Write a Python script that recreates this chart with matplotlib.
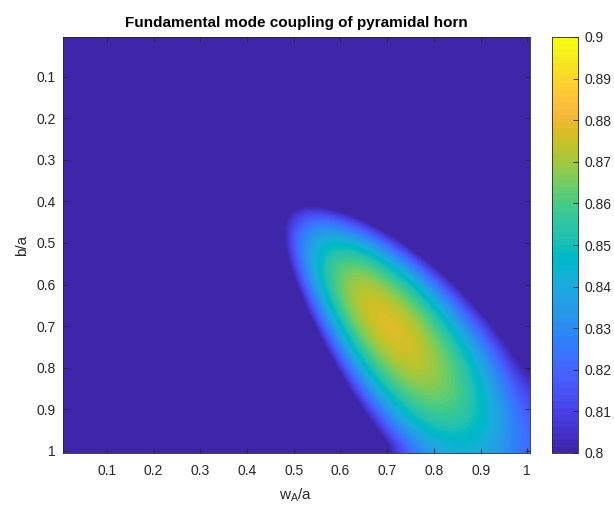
import numpy as np
import matplotlib
matplotlib.use("Agg")
import matplotlib.pyplot as plt
from matplotlib.colors import ListedColormap

# ---------------- data ----------------
w_over_a = [0.40, 0.45, 0.50, 0.55, 0.60, 0.65, 0.70, 0.75, 0.80, 0.85, 0.90, 0.95, 1.00]
b_over_a = [0.35, 0.40, 0.45, 0.50, 0.55, 0.60, 0.65, 0.70, 0.75, 0.80, 0.85, 0.90, 0.95, 1.00]

# rows: b/a, columns: w_A/a  (values below 0.8 are shown saturated dark blue)
coupling = [
    [0.724, 0.752, 0.758, 0.750, 0.730, 0.703, 0.672, 0.638, 0.603, 0.569, 0.536, 0.504, 0.474],
    [0.732, 0.775, 0.796, 0.796, 0.783, 0.761, 0.731, 0.699, 0.665, 0.629, 0.595, 0.561, 0.530],
    [0.723, 0.782, 0.815, 0.828, 0.823, 0.807, 0.782, 0.752, 0.717, 0.682, 0.648, 0.613, 0.580],
    [0.703, 0.774, 0.821, 0.844, 0.849, 0.840, 0.820, 0.794, 0.762, 0.729, 0.694, 0.657, 0.625],
    [0.674, 0.756, 0.814, 0.849, 0.863, 0.863, 0.849, 0.827, 0.798, 0.768, 0.734, 0.699, 0.666],
    [0.642, 0.731, 0.798, 0.843, 0.867, 0.874, 0.867, 0.852, 0.827, 0.799, 0.767, 0.735, 0.702],
    [0.608, 0.701, 0.775, 0.829, 0.862, 0.878, 0.877, 0.867, 0.848, 0.823, 0.794, 0.763, 0.732],
    [0.574, 0.669, 0.749, 0.809, 0.849, 0.873, 0.880, 0.876, 0.862, 0.841, 0.816, 0.787, 0.758],
    [0.541, 0.637, 0.719, 0.785, 0.832, 0.862, 0.876, 0.878, 0.869, 0.853, 0.832, 0.806, 0.778],
    [0.511, 0.605, 0.689, 0.758, 0.810, 0.846, 0.866, 0.875, 0.871, 0.860, 0.842, 0.820, 0.795],
    [0.484, 0.574, 0.658, 0.730, 0.786, 0.827, 0.853, 0.866, 0.868, 0.862, 0.848, 0.828, 0.807],
    [0.458, 0.546, 0.628, 0.701, 0.760, 0.805, 0.835, 0.854, 0.861, 0.859, 0.849, 0.834, 0.814],
    [0.435, 0.520, 0.599, 0.673, 0.733, 0.781, 0.816, 0.839, 0.850, 0.852, 0.847, 0.835, 0.819],
    [0.412, 0.495, 0.573, 0.644, 0.706, 0.756, 0.794, 0.821, 0.836, 0.842, 0.841, 0.833, 0.820],
]

x_ticks = [0.1, 0.2, 0.3, 0.4, 0.5, 0.6, 0.7, 0.8, 0.9, 1.0]
x_tick_labels = ["0.1", "0.2", "0.3", "0.4", "0.5", "0.6", "0.7", "0.8", "0.9", "1"]
y_ticks = [0.1, 0.2, 0.3, 0.4, 0.5, 0.6, 0.7, 0.8, 0.9, 1.0]
y_tick_labels = ["0.1", "0.2", "0.3", "0.4", "0.5", "0.6", "0.7", "0.8", "0.9", "1"]
cbar_ticks = [0.80, 0.81, 0.82, 0.83, 0.84, 0.85, 0.86, 0.87, 0.88, 0.89, 0.90]
cbar_tick_labels = ["0.8", "0.81", "0.82", "0.83", "0.84", "0.85", "0.86",
                    "0.87", "0.88", "0.89", "0.9"]
c_limits = (0.8, 0.9)

title_text = "Fundamental mode coupling of pyramidal horn"
x_label = r"w$_\mathregular{A}$/a"
y_label = "b/a"

# ---------------- parula colormap ----------------
parula_rgb = [
    [0.2422, 0.1504, 0.6603], [0.2504, 0.1650, 0.7076], [0.2578, 0.1818, 0.7511],
    [0.2647, 0.1978, 0.7952], [0.2706, 0.2147, 0.8364], [0.2751, 0.2342, 0.8710],
    [0.2783, 0.2559, 0.8991], [0.2803, 0.2782, 0.9221], [0.2813, 0.3006, 0.9414],
    [0.2810, 0.3228, 0.9579], [0.2795, 0.3447, 0.9717], [0.2760, 0.3667, 0.9829],
    [0.2699, 0.3892, 0.9906], [0.2602, 0.4123, 0.9952], [0.2440, 0.4358, 0.9988],
    [0.2206, 0.4603, 0.9973], [0.1963, 0.4847, 0.9892], [0.1834, 0.5074, 0.9798],
    [0.1786, 0.5289, 0.9682], [0.1764, 0.5499, 0.9520], [0.1687, 0.5703, 0.9359],
    [0.1540, 0.5902, 0.9218], [0.1460, 0.6091, 0.9079], [0.1380, 0.6276, 0.8973],
    [0.1248, 0.6459, 0.8883], [0.1113, 0.6635, 0.8763], [0.0952, 0.6798, 0.8598],
    [0.0689, 0.6948, 0.8394], [0.0297, 0.7082, 0.8163], [0.0036, 0.7203, 0.7917],
    [0.0067, 0.7312, 0.7660], [0.0433, 0.7411, 0.7394], [0.0964, 0.7500, 0.7120],
    [0.1408, 0.7584, 0.6842], [0.1717, 0.7670, 0.6554], [0.1938, 0.7758, 0.6251],
    [0.2161, 0.7843, 0.5923], [0.2470, 0.7918, 0.5567], [0.2906, 0.7973, 0.5188],
    [0.3406, 0.8008, 0.4789], [0.3909, 0.8029, 0.4354], [0.4456, 0.8024, 0.3909],
    [0.5044, 0.7993, 0.3480], [0.5616, 0.7942, 0.3045], [0.6174, 0.7876, 0.2612],
    [0.6720, 0.7793, 0.2227], [0.7242, 0.7698, 0.1910], [0.7738, 0.7598, 0.1646],
    [0.8203, 0.7498, 0.1535], [0.8634, 0.7406, 0.1596], [0.9035, 0.7330, 0.1774],
    [0.9393, 0.7288, 0.2100], [0.9728, 0.7298, 0.2394], [0.9956, 0.7434, 0.2371],
    [0.9970, 0.7659, 0.2199], [0.9952, 0.7893, 0.2028], [0.9892, 0.8136, 0.1885],
    [0.9794, 0.8386, 0.1729], [0.9697, 0.8639, 0.1561], [0.9626, 0.8901, 0.1382],
    [0.9589, 0.9170, 0.1207], [0.9598, 0.9434, 0.1031], [0.9661, 0.9702, 0.0877],
    [0.9763, 0.9831, 0.0538],
]
parula = ListedColormap(parula_rgb, name="parula")
parula.set_under(parula_rgb[0])
parula.set_over(parula_rgb[-1])

# ---------------- style ----------------
text_col = (0.15, 0.15, 0.15)
plt.rcParams["font.family"] = ["Liberation Sans", "DejaVu Sans"]
plt.rcParams["mathtext.fontset"] = "custom"
plt.rcParams["mathtext.rm"] = "Liberation Sans"
plt.rcParams["axes.linewidth"] = 0.6
plt.rcParams["text.color"] = text_col
plt.rcParams["axes.labelcolor"] = text_col
plt.rcParams["xtick.color"] = text_col
plt.rcParams["ytick.color"] = text_col

W, H = 614, 507
fig = plt.figure(figsize=(W / 100, H / 100), dpi=100)

ax_l, ax_r, ax_t, ax_b = 62.6, 529.6, 37.0, 453.0
ax = fig.add_axes([ax_l / W, 1 - ax_b / H, (ax_r - ax_l) / W, (ax_b - ax_t) / H])
ax.set_facecolor(parula_rgb[0])

Z = np.array(coupling)
xs = np.array(w_over_a)
ys = np.array(b_over_a)
dx = xs[1] - xs[0]
dy = ys[1] - ys[0]
im = ax.imshow(Z, cmap=parula, vmin=c_limits[0], vmax=c_limits[1],
               extent=[xs[0] - dx / 2, xs[-1] + dx / 2, ys[-1] + dy / 2, ys[0] - dy / 2],
               origin="upper", interpolation="bicubic", interpolation_stage="data",
               aspect="auto")

ax.set_xlim(0.005, 1.005)
ax.set_ylim(1.005, 0.005)
ax.set_xticks(x_ticks)
ax.set_xticklabels(x_tick_labels)
ax.set_yticks(y_ticks)
ax.set_yticklabels(y_tick_labels)
ax.tick_params(axis="both", which="both", direction="in", length=3.5, width=0.6,
               top=True, right=True, labelsize=10, colors=text_col)
ax.tick_params(axis="x", pad=8)
ax.tick_params(axis="y", pad=5)
for s in ax.spines.values():
    s.set_color(text_col)
    s.set_linewidth(0.6)

ax.set_title(title_text, fontsize=11, fontweight="bold", color="black", pad=7)
ax.set_xlabel(x_label, fontsize=11, labelpad=6)
ax.set_ylabel(y_label, fontsize=11, labelpad=5)

cb_l, cb_r = 552.0, 578.0
cax = fig.add_axes([cb_l / W, 1 - ax_b / H, (cb_r - cb_l) / W, (ax_b - ax_t) / H])
cb = fig.colorbar(im, cax=cax)
cb.set_ticks(cbar_ticks)
cb.set_ticklabels(cbar_tick_labels)
cb.ax.tick_params(direction="in", length=3.5, width=0.6, labelsize=10, pad=5,
                  colors=text_col)
cb.outline.set_edgecolor(text_col)
cb.outline.set_linewidth(0.6)

fig.savefig("out.png", dpi=100)
